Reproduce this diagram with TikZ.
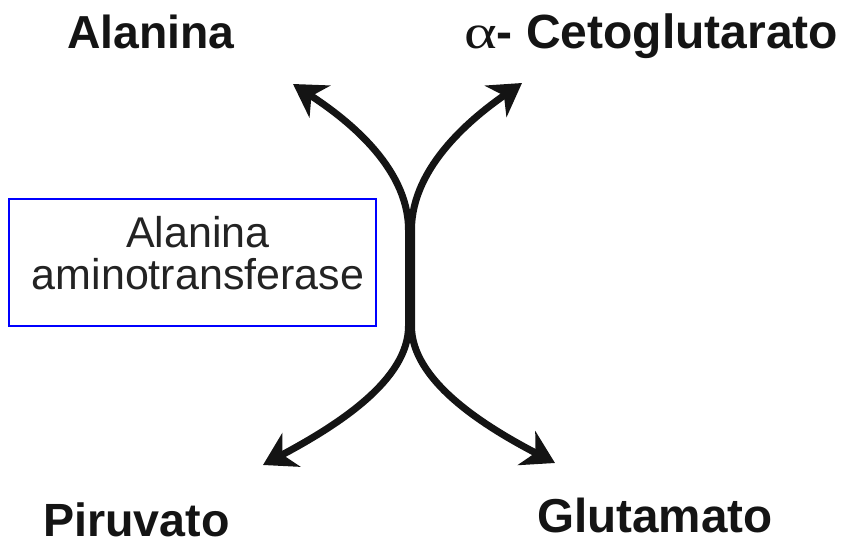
\documentclass[tikz,border=0pt]{standalone}
\usepackage{fontspec}
\usepackage{graphicx}
\setmainfont{Liberation Sans}
\newfontfamily\greekserif{Liberation Serif}
\usetikzlibrary{arrows.meta}

\definecolor{inkdark}{RGB}{20,20,20}
\definecolor{enzgray}{RGB}{35,35,35}
\definecolor{boxblue}{RGB}{0,0,255}

\newcommand{\labelsize}[1]{\fontsize{#1}{#1}\selectfont}

\tikzset{
  metab/.style={anchor=base west, inner sep=0pt, text=inkdark, font=\bfseries},
  enzbox/.style={draw=boxblue, line width=2pt, rectangle, inner sep=0pt,
    minimum width=367pt, minimum height=127pt},
  enzlabel/.style={align=center, inner sep=0pt, text=enzgray,
    font=\fontsize{43}{42}\selectfont},
  rxn/.style={draw=inkdark, line width=7pt, line join=round,
    {Stealth[length=32pt,width=38pt,inset=10pt]}-{Stealth[length=32pt,width=38pt,inset=10pt]}}
}

\begin{document}
\begin{tikzpicture}[x=1pt,y=-1pt]
  \useasboundingbox (0,0) rectangle (847,546);

  % metabolites
  \node[metab] (ala) at (67,48) {\labelsize{46.3}Alanina};
  \node[metab] (akg) at (464,48) {\labelsize{48}{\mdseries\greekserif\scalebox{1.3}[1]{α}}- Cetoglutarato};
  \node[metab] (pir) at (43,536) {\labelsize{46.6}Piruvato};
  \node[metab] (glu) at (537,532) {\labelsize{47.6}Glutamato};

  % enzyme
  \node[enzbox] (box) at (192,262.5) {};
  \node[enzlabel] (enz) at (198,253) {Alanina\\aminotransferase};

  % arrow ends and the shared middle stretch
  \coordinate (tl) at (293,84);
  \coordinate (tr) at (522,83);
  \coordinate (bl) at (263,465);
  \coordinate (br) at (555,463);
  \coordinate (lu) at (408.5,230);
  \coordinate (ld) at (408.5,326);
  \coordinate (ru) at (411.5,230);
  \coordinate (rd) at (411.5,326);

  % Alanina <-> Piruvato
  \draw[rxn] (tl) .. controls (342,116) and (408.5,165) .. (lu)
             -- (ld) .. controls (408.5,380) and (338,425) .. (bl);
  % alpha-Cetoglutarato <-> Glutamato
  \draw[rxn] (tr) .. controls (476,115) and (411.5,165) .. (ru)
             -- (rd) .. controls (411.5,380) and (482,425) .. (br);
\end{tikzpicture}
\end{document}
